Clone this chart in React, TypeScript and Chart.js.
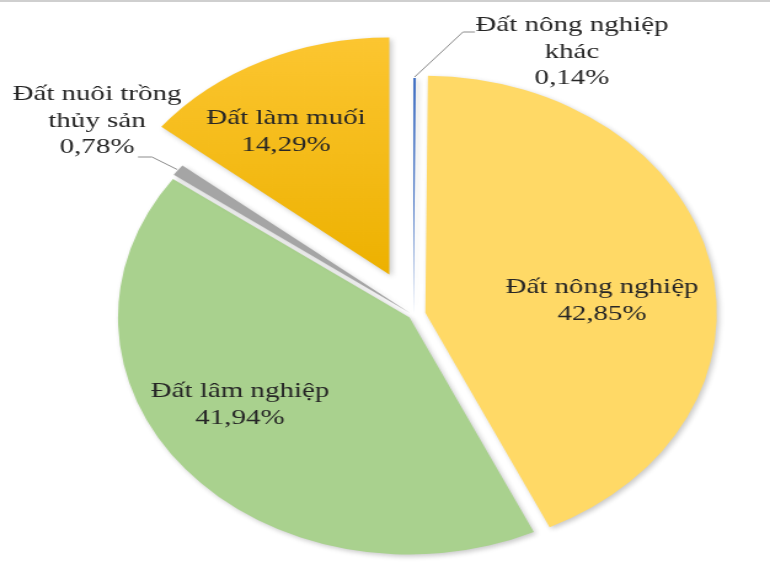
import { useEffect, useRef } from "react";
import { Chart, registerables } from "chart.js";

Chart.register(...registerables);

// data
const categories = [
  "Đất nông nghiệp khác",
  "Đất nông nghiệp",
  "Đất lâm nghiệp",
  "Đất nuôi trồng thủy sản",
  "Đất làm muối",
];
const shares = [0.14, 42.85, 41.94, 0.78, 14.29];
// how each category name is broken over lines in the label
const nameLines = [
  ["Đất nông nghiệp", "khác"],
  ["Đất nông nghiệp"],
  ["Đất lâm nghiệp"],
  ["Đất nuôi trồng", "thủy sản"],
  ["Đất làm muối"],
];

// style / layout
const CANVAS_W = 626; // drawn narrower, then stretched to 770 like the source image
const CANVAS_H = 572;
const SX = 770 / CANVAS_W;
const TEXT_SX = 1.095; // text in the source is stretched a bit more than the pie
const RADIUS = 237;
const colors = ["#4472C4", "#FFD966", "#A9D18E", "#A5A5A5", "#FFC000"];
const explode = [0, 10, 4, 3, 45];
// label anchor: centre x and first baseline y, in page pixels
const labelPos = [
  [572, 31],
  [602, 293],
  [240, 397],
  [97, 100],
  [286, 124],
];
// leader line bends (page pixels), null when label sits inside the slice
const leaders: (number[][] | null)[] = [
  [[463, 32], [475, 32]],
  null,
  null,
  [[152, 157], [138, 157]],
  null,
];
const LINE_H = 26.5;
const FONT = "21.5px 'Liberation Serif', 'Times New Roman', serif";

const fmtPct = (v: number) => v.toFixed(2).replace(".", ",") + "%";

const explodePlugin = {
  id: "explodeSlices",
  beforeDatasetDraw(chart: any, args: any) {
    const ctx = chart.ctx;
    args.meta.data.forEach((arc: any, i: number) => {
      const mid = (arc.startAngle + arc.endAngle) / 2;
      const d = explode[i];
      ctx.save();
      ctx.translate(Math.cos(mid) * d, Math.sin(mid) * d);
      ctx.shadowColor = "rgba(0,0,0,0.22)";
      ctx.shadowBlur = 5;
      ctx.shadowOffsetX = 2;
      ctx.shadowOffsetY = 2;
      arc.draw(ctx);
      ctx.restore();
    });
    return false;
  },
};

const labelPlugin = {
  id: "sliceLabels",
  afterDraw(chart: any) {
    const ctx = chart.ctx;
    const arcs = chart.getDatasetMeta(0).data;
    ctx.save();
    ctx.font = FONT;
    ctx.fillStyle = "#262626";
    ctx.textAlign = "center";
    ctx.textBaseline = "alphabetic";
    shares.forEach((v, i) => {
      const lines = [...nameLines[i], fmtPct(v)];
      const [px, py] = labelPos[i];
      lines.forEach((t, k) => {
        ctx.save();
        ctx.translate(px / SX, py + k * LINE_H);
        ctx.scale(TEXT_SX, 1);
        ctx.fillText(t, 0, 0);
        ctx.restore();
      });

      const bends = leaders[i];
      if (bends) {
        const arc = arcs[i];
        const mid = (arc.startAngle + arc.endAngle) / 2;
        const r = arc.outerRadius + explode[i] + 1;
        ctx.beginPath();
        ctx.moveTo(arc.x + Math.cos(mid) * r, arc.y + Math.sin(mid) * r);
        bends.forEach(([bx, by]) => ctx.lineTo(bx / SX, by));
        ctx.strokeStyle = "#8c8c8c";
        ctx.lineWidth = 1;
        ctx.stroke();
      }
    });
    ctx.restore();
  },
};

export default function App() {
  const chartRef = useRef<HTMLCanvasElement>(null);
  const chartInstance = useRef<Chart | null>(null);

  useEffect(() => {
    if (!chartRef.current) return;
    if (chartInstance.current) chartInstance.current.destroy();

    chartInstance.current = new Chart(chartRef.current, {
      type: "pie",
      data: {
        labels: categories,
        datasets: [
          {
            data: shares,
            backgroundColor: (c: any) => {
              const i = c.dataIndex;
              const area = c.chart.chartArea;
              if (i !== 4 || !area) return colors[i];
              const cy = (area.top + area.bottom) / 2;
              const g = c.chart.ctx.createLinearGradient(0, cy - RADIUS - 45, 0, cy);
              g.addColorStop(0, "#FFCA3A");
              g.addColorStop(1, "#EDB100");
              return g;
            },
            borderWidth: 0,
          },
        ],
      },
      options: {
        responsive: false,
        animation: false,
        events: [],
        radius: RADIUS,
        layout: { padding: { left: 46, top: 58, right: 0, bottom: 0 } },
        plugins: {
          legend: { display: false },
          tooltip: { enabled: false },
        },
      },
      plugins: [explodePlugin, labelPlugin],
    } as any);

    return () => {
      if (chartInstance.current) {
        chartInstance.current.destroy();
        chartInstance.current = null;
      }
    };
  }, []);

  return (
    <div style={{ position: "absolute", left: 0, top: 0, width: 770, height: 572, background: "#fff", overflow: "hidden" }}>
      <canvas
        ref={chartRef}
        width={CANVAS_W}
        height={CANVAS_H}
        style={{ position: "absolute", left: 0, top: 0, width: "770px", height: "572px" }}
      />
      <div style={{ position: "absolute", left: 0, top: 0, width: 770, height: 2, background: "#cfcfcf" }} />
    </div>
  );
}
